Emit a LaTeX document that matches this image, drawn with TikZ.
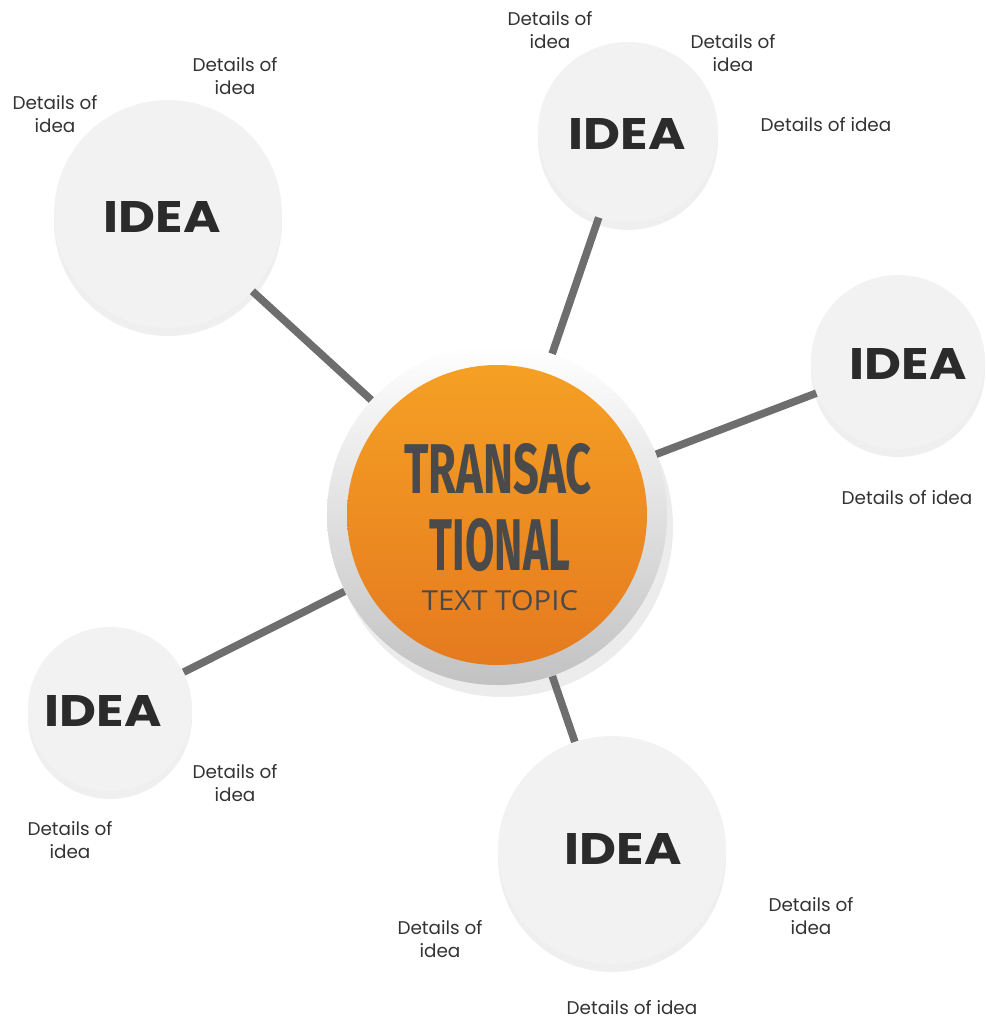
\documentclass[tikz,border=0pt]{standalone}
\usepackage{fontspec}
\setmainfont{Poppins}
\newfontfamily\topicfont{Fira Sans}
\newfontfamily\subfont{Open Sans}
\usepackage{tikz}
\usetikzlibrary{shadows}

\definecolor{ideagray}{HTML}{F2F2F2}
\definecolor{linkgray}{HTML}{6E6E6E}
\definecolor{txtdark}{HTML}{2B2B2B}
\definecolor{topicgray}{HTML}{4A4A4A}
\definecolor{orangetop}{HTML}{F5A024}
\definecolor{orangebot}{HTML}{E57A1F}

\begin{document}
\begin{tikzpicture}[
  x=0.5pt, y=-0.5pt,
  font=\fontsize{9.2}{11.5}\selectfont,
  idea/.style={circle, fill=ideagray, inner sep=0pt,
    drop shadow={opacity=0.12, shadow xshift=0pt, shadow yshift=-4pt}},
  ideatext/.style={text=txtdark, inner sep=0pt, anchor=base},
  detail/.style={align=center, text=black!80, inner sep=0pt},
  link/.style={draw=linkgray, line width=3.8pt},
]
\useasboundingbox[fill=white] (0,0) rectangle (986,1019);

% Hub
\node[circle, inner sep=0pt, minimum size=170pt, top color=white, bottom color=black!24,
  drop shadow={opacity=0.15, shadow xshift=3pt, shadow yshift=-6pt}] (hub) at (497,515) {};
\node[circle, inner sep=0pt, minimum size=150pt, top color=orangetop, bottom color=orangebot] (core) at (497,515) {};
\node[text=topicgray, inner sep=0pt, anchor=base] (topic1) at (498,493)
  {\resizebox{93.5pt}{25pt}{\topicfont\bfseries TRANSAC}};
\node[text=topicgray, inner sep=0pt, anchor=base] (topic2) at (500,570)
  {\resizebox{70pt}{26pt}{\topicfont\bfseries TIONAL}};
\node[text=topicgray, inner sep=0pt, anchor=base] (topic3) at (500,610)
  {\resizebox{78pt}{10pt}{\subfont TEXT TOPIC}};

% Ideas
\foreach \n/\cx/\cy/\r/\tx/\ty in {tl/168/214/114/162/232, tr/628/132/90/627/149,
    r/898/362/87/908/379, bl/110/709/82/103/726, b/612/850/114/623/864} {
  \node[idea, minimum size=\r pt] (idea-\n) at (\cx,\cy) {};
  \node[ideatext] (idea-\n-t) at (\tx,\ty) {\resizebox{58.5pt}{15.5pt}{\bfseries IDEA}};
}

% Links
\foreach \n in {tl,tr,r,bl,b} \draw[link] (hub) -- (idea-\n);

% Details
\node[detail] (d1) at (235,76) {Details of\\idea};
\node[detail] (d2) at (55,114) {Details of\\idea};
\node[detail] (d3) at (550,30) {Details of\\idea};
\node[detail] (d4) at (733,53) {Details of\\idea};
\node[detail] (d5) at (826,125) {Details of idea};
\node[detail] (d6) at (907,498) {Details of idea};
\node[detail] (d7) at (235,783) {Details of\\idea};
\node[detail] (d8) at (70,840) {Details of\\idea};
\node[detail] (d9) at (440,939) {Details of\\idea};
\node[detail] (d10) at (811,916) {Details of\\idea};
\node[detail] (d11) at (632,1008) {Details of idea};
\end{tikzpicture}
\end{document}
